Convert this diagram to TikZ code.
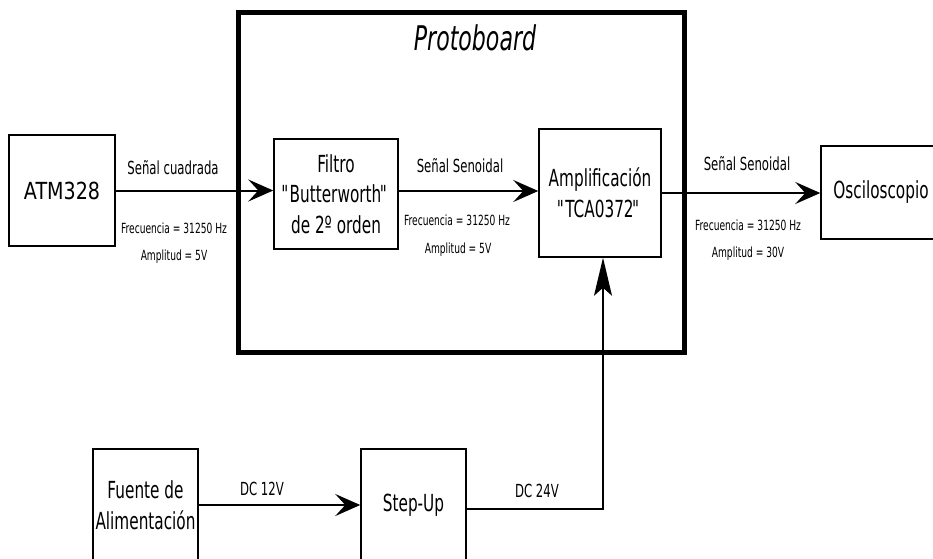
\documentclass[tikz,border=0pt]{standalone}
\usepackage{graphicx}
\usepackage{fontspec}
\setmainfont[FakeStretch=0.65]{DejaVu Sans}
\usetikzlibrary{arrows.meta}
\newcommand{\oq}{\textquotedbl\kern-2.5pt}
\newcommand{\cq}{\kern-1.5pt\textquotedbl}
\tikzset{
  blk/.style={draw, line width=1.5pt, inner sep=0pt, align=center,
    font=\fontsize{23.5}{30.5}\selectfont},
  lblbig/.style={anchor=base, inner sep=0pt, font=\fontsize{18}{22}\selectfont},
  lblsmall/.style={anchor=base, inner sep=0pt, font=\fontsize{14}{17}\selectfont},
  conn/.style={line width=2pt, -{Stealth[length=25pt,width=22pt,inset=10pt]}},
  connv/.style={line width=1.5pt, -{Stealth[length=38pt,width=18pt,inset=8pt]}},
  frame/.style={draw, line width=5pt, inner sep=0pt},
}
\begin{document}
\begin{tikzpicture}[x=1pt,y=-1pt]
\useasboundingbox (0,0) rectangle (933,558);
% protoboard frame
\node[frame, minimum width=446pt, minimum height=339.5pt] (proto) at (461,182.25) {};
\node[anchor=base, inner sep=0pt, font=\fontsize{34}{40}\selectfont\itshape] (prototxt) at (475,50) {Protoboard};
% blocks
\node[blk, minimum width=106pt, minimum height=111pt] (atm) at (62,190.5) {\scalebox{1.25}[1]{ATM328}};
\node[blk, minimum width=124pt, minimum height=110pt] (filtro) at (336,194) {Filtro\\\oq Butterworth\cq\\de 2º orden};
\node[blk, minimum width=122pt, minimum height=128pt] (amp) at (600,193) {Amplificación\\\oq TCA0372\cq};
\node[blk, minimum width=120pt, minimum height=93pt] (osc) at (881,192.5) {Osciloscopio};
\node[blk, minimum width=105pt, minimum height=112pt] (fuente) at (145.5,505) {Fuente de\\Alimentación};
\node[blk, minimum width=105pt, minimum height=112pt] (step) at (413.5,505) {Step-Up};
% labels
\node[lblbig] (l1a) at (173,174) {Señal cuadrada};
\node[lblsmall] (l1b) at (174,233) {Frecuencia = 31250 Hz};
\node[lblsmall] (l1c) at (174,260) {Amplitud = 5V};
\node[lblbig] (l2a) at (460,172) {Señal Senoidal};
\node[lblsmall] (l2b) at (457,225) {Frecuencia = 31250 Hz};
\node[lblsmall] (l2c) at (458,253) {Amplitud = 5V};
\node[lblbig] (l3a) at (747,170) {Señal Senoidal};
\node[lblsmall] (l3b) at (748,230) {Frecuencia = 31250 Hz};
\node[lblsmall] (l3c) at (748,257) {Amplitud = 30V};
\node[lblbig] (dc12) at (262,495) {DC 12V};
\node[lblbig] (dc24) at (537,497) {DC 24V};
% connectors
\draw[conn] (atm.east) -- (atm.east -| filtro.west);
\draw[conn] ([yshift=3pt]filtro.east) -- ([yshift=3pt]filtro.east -| amp.west);
\draw[conn] (amp.east) -- (amp.east -| osc.west);
\draw[conn] (fuente.east) -- (fuente.east -| step.west);
\draw[connv] ([yshift=-4pt]step.east) -| ([xshift=3pt]amp.south);
\end{tikzpicture}
\end{document}
